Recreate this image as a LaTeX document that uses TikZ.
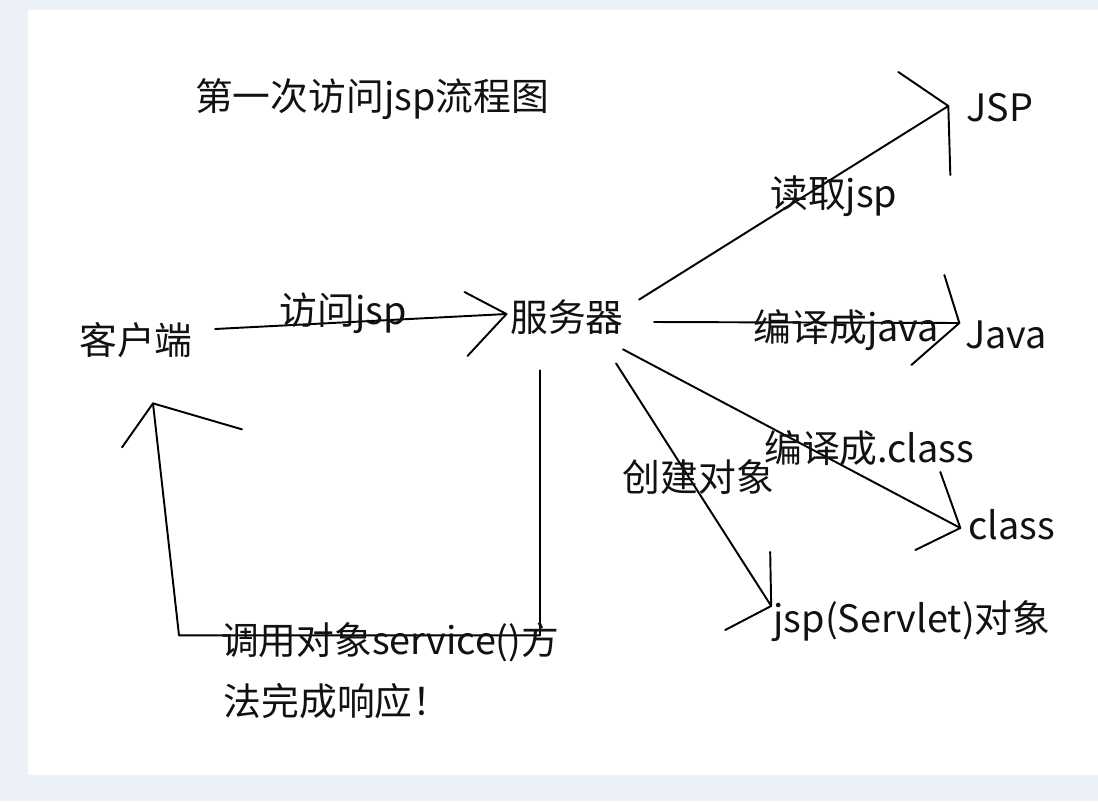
\documentclass[tikz,border=0pt]{standalone}
\usepackage{fontspec}
\setmainfont{Noto Sans CJK SC}
\usepackage{tikz}
\definecolor{bgblue}{HTML}{ECF1F8}
\definecolor{ink}{HTML}{111111}

\begin{document}
\begin{tikzpicture}[x=0.02cm, y=-0.02cm,
        every node/.style={font=\fontsize{21.5pt}{26pt}\selectfont, text=ink,
          inner sep=2pt, text height=0.64cm, text depth=0.08cm},
        line/.style={line width=1.1pt, line cap=round, line join=round}]
        \fill[bgblue] (0,0) rectangle (1098,801);
        \fill[white] (28,10) rectangle (1098,775);
        \useasboundingbox (0,0) rectangle (1098,801);

        \node (0) at (372,97) {第一次访问jsp流程图};
        \node (1) at (136,340) {客户端};
        \node (2) at (567,317) {服务器};
        \node (3) at (1000,108) {JSP};
        \node (4) at (1006,334) {Java};
        \node (5) at (1012,525) {class};
        \node (6) at (912,618) {jsp(Servlet)对象};

        \coordinate (t1) at ([xshift=0.34cm, yshift=-0.83cm]1.south);
        \coordinate (t2) at ([yshift=0.06cm]2.west);
        \coordinate (t3) at ([xshift=-0.29cm, yshift=0.04cm]3.west);
        \coordinate (t4) at ([xshift=-0.04cm, yshift=0.22cm]4.west);
        \coordinate (t5) at ([xshift=-0.09cm, yshift=-0.06cm]5.west);
        \coordinate (t6) at ([xshift=0.03cm, yshift=0.24cm]6.west);

        \draw[line] ([xshift=0.37cm, yshift=0.22cm]1.east) -- node [pos=0.44, yshift=0.23cm] (7) {访问jsp} (t2);
        \draw[line] ([xshift=0.23cm, yshift=-0.09cm]2.north east) -- node [pos=0.63, yshift=-0.32cm] (8) {读取jsp} (t3);
        \draw[line] ([xshift=0.53cm, yshift=-0.1cm]2.east) -- node [pos=0.63, yshift=-0.09cm] (9) {编译成java} (t4);
        \draw[line] ([xshift=-0.09cm, yshift=-0.21cm]2.south east) -- node [pos=0.73, yshift=0.62cm] (10) {编译成.class} (t5);
        \draw[line] ([xshift=-0.23cm, yshift=-0.49cm]2.south east) -- node [pos=0.53, yshift=0.28cm] (11) {创建对象} (t6);
        \draw[line] ([xshift=-0.54cm, yshift=-0.63cm]2.south) -- ++(0,265)
          -- node [pos=0.415, yshift=-0.1cm] (12) {调用对象service()方} ++(-361,0) -- (t1);
        \node [below of=12, xshift=-1.06cm, yshift=-0.22cm] (13) {法完成响应！};

        \draw[line] (t1) +(-31,44) -- (t1) -- +(89,26);
        \draw[line] (t2) +(-42,-22) -- (t2) -- +(-39,42);
        \draw[line] (t3) +(-50,-34) -- (t3) -- +(2,69);
        \draw[line] (t4) +(-15,-48) -- (t4) -- +(-48,42);
        \draw[line] (t5) +(-20,-56) -- (t5) -- +(-45,22);
        \draw[line] (t6) +(-1,-54) -- (t6) -- +(-46,24);
      \end{tikzpicture}
\end{document}
